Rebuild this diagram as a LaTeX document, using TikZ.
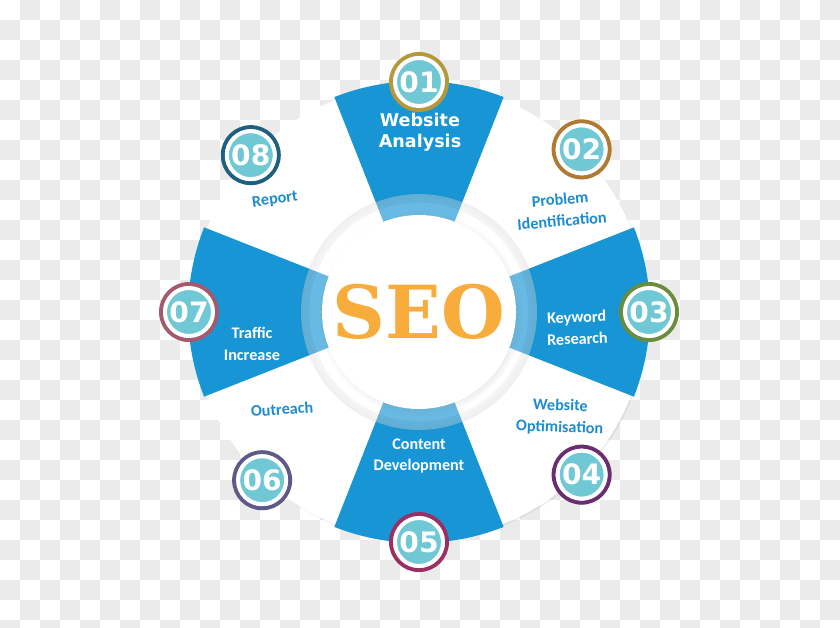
\documentclass[tikz,border=0pt]{standalone}
\usepackage{fontspec}
\usetikzlibrary{positioning,shadows}
\newfontfamily\dejavu{DejaVu Sans}
\newfontfamily\dejaserif{DejaVu Serif}
\newfontfamily\carlito{Carlito}
\definecolor{wheelblue}{RGB}{24,149,212}
\definecolor{textblue}{RGB}{30,140,207}
\definecolor{badgeteal}{RGB}{111,200,212}
\definecolor{seoorange}{RGB}{248,172,59}
\definecolor{checkgray}{RGB}{235,235,235}
\definecolor{ringA}{RGB}{181,152,58}
\definecolor{ringB}{RGB}{176,122,48}
\definecolor{ringC}{RGB}{107,140,60}
\definecolor{ringD}{RGB}{107,45,111}
\definecolor{ringE}{RGB}{156,47,98}
\definecolor{ringF}{RGB}{93,90,134}
\definecolor{ringG}{RGB}{165,89,109}
\definecolor{ringH}{RGB}{31,95,127}
\begin{document}
\begin{tikzpicture}[x=0.025cm,y=0.025cm,
  badge/.style={circle,fill=badgeteal,draw=white,line width=0.1cm,minimum size=1.2cm,inner sep=0pt,
    text=white,font=\dejavu\bfseries\fontsize{20}{20}\selectfont},
  bluelabel/.style={text=textblue,align=center,inner sep=0pt,font=\carlito\bfseries\fontsize{11.5}{15.5}\selectfont},
  whitelabel/.style={bluelabel,text=white},
  hub/.style={circle,fill=white,minimum size=4.85cm,inner sep=0pt,text=seoorange,
    font=\dejaserif\bfseries\fontsize{52}{52}\selectfont,
    circular drop shadow={opacity=0.25,shadow scale=1.05}}]
	\useasboundingbox (-419,-315) rectangle (421,312);
	\fill[white] (-419,-315) rectangle (421,312);
	\begin{scope}
	\clip (-419,-315) rectangle (421,312);
	\foreach \j in {0,...,31}{
		\pgfmathtruncatemacro\s{mod(\j+1,2)}
		\pgfmathtruncatemacro\ss{\s+2}
		\foreach \i in {\s,\ss,...,41}
			\fill[checkgray] (20*\i-419,312-20*\j) rectangle ++(20,-20);
	}
	\end{scope}

	\foreach \a in {45,-45,-135,135}
		\fill[white,drop shadow={opacity=0.12,shadow xshift=1pt,shadow yshift=-1pt}]
		({\a-24}:90) arc[start angle=\a-24,end angle=\a+24,radius=90]
		-- ({\a+24}:228) arc[start angle=\a+24,end angle=\a-24,radius=228] -- cycle;
	\foreach \a in {90,0,-90,180}
		\fill[wheelblue]
		({\a-21.5}:90) arc[start angle=\a-21.5,end angle=\a+21.5,radius=90]
		-- ({\a+21.5}:231) arc[start angle=\a+21.5,end angle=\a-21.5,radius=231] -- cycle;

	\fill[white,opacity=0.35,even odd rule] (0,0) circle (118) (0,0) circle (97);
	\foreach \r/\o in {117/0.06,114/0.05,111/0.04}
		\draw[black,opacity=\o,line width=2pt] (0,0) circle (\r);

	\node[hub] (seo) at (0,0) {SEO};

	\foreach \n/\a/\c in {01/90/ringA,02/45/ringB,03/0/ringC,04/-45/ringD,05/-90/ringE,06/-133/ringF,07/180/ringG,08/137/ringH}{
		\coordinate (p\n) at (\a:230);
		\draw[\c,line width=0.1cm,drop shadow={opacity=0.3,shadow xshift=0pt,shadow yshift=-1.5pt}] (p\n) circle (28);
		\node[badge] (b\n) at (p\n) {\n};
	}

	\node[whitelabel,font=\dejavu\bfseries\fontsize{12.5}{15}\selectfont] (analysis) at (1,180) {Website\\Analysis};
	\node[bluelabel,rotate=5] (problem) at (142,102) {Problem\\Identification};
	\node[whitelabel,rotate=2] (keyword) at (158,-16) {Keyword\\Research};
	\node[bluelabel,rotate=-2] (optimise) at (141,-105) {Website\\Optimisation};
	\node[whitelabel] (content) at (0,-144) {Content\\Development};
	\node[bluelabel,rotate=4] (outreach) at (-137,-97) {Outreach};
	\node[whitelabel] (traffic) at (-167,-32) {Traffic\\Increase};
	\node[bluelabel,rotate=8] (report) at (-144,112) {Report};
\end{tikzpicture}
\end{document}
